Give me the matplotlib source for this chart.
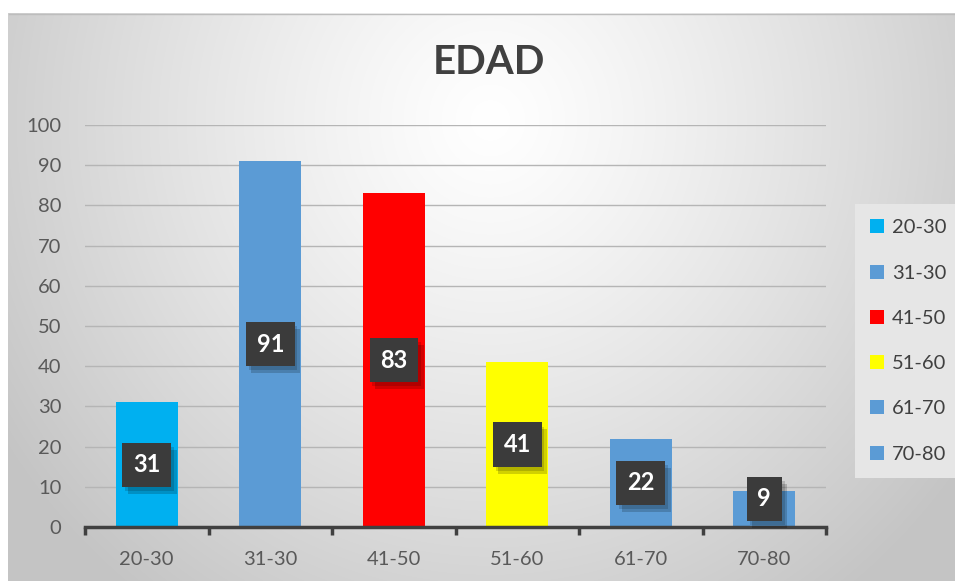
import numpy as np
import matplotlib
matplotlib.use("Agg")
import matplotlib.pyplot as plt
from matplotlib.patches import Patch
import matplotlib.patheffects as pe

categories = ["20-30", "31-30", "41-50", "51-60", "61-70", "70-80"]
values = [31, 91, 83, 41, 22, 9]
colors = ["#00B0F0", "#5B9BD5", "#FF0000", "#FFFF00", "#5B9BD5", "#5B9BD5"]
yticks = [0, 10, 20, 30, 40, 50, 60, 70, 80, 90, 100]
title = "EDAD"

plt.rcParams['font.family'] = ['Lato', 'DejaVu Sans']

W, H = 955, 581
fig = plt.figure(figsize=(W / 100, H / 100), dpi=100)
fig.patch.set_facecolor("white")

# background chart area with radial gradient
bx0, by0, bw, bh = 8, 13, 947, 568
bg = fig.add_axes([bx0 / W, 0, bw / W, bh / H], zorder=-5)
yy, xx = np.mgrid[0:bh, 0:bw]
cx, cy = 490 - bx0, 120 - by0
d = np.sqrt(((xx - cx) / 580.0) ** 2 + ((yy - cy) / 600.0) ** 2)
d = np.clip(d, 0, 1)
val = 1.0 - 0.23 * d ** 1.2
img = np.dstack([val, val, val])
bg.imshow(img, aspect="auto", interpolation="bilinear")
bg.axis("off")
bg.plot([0, bw], [0.5, 0.5], color="#bdbdbd", lw=1)
bg.set_xlim(-0.5, bw - 0.5)
bg.set_ylim(bh - 0.5, -0.5)

ax = fig.add_axes([85 / W, 1 - 527 / H, (826 - 85) / W, (527 - 125) / H])
ax.set_facecolor("none")
x = np.arange(len(categories))
bars = ax.bar(x, values, width=0.5, color=colors, zorder=3)
ax.set_xlim(-0.5, len(categories) - 0.5)
ax.set_ylim(0, 100)
ax.set_yticks(yticks)
ax.yaxis.grid(True, color="#b5b5b5", lw=1, zorder=0)
ax.set_axisbelow(True)
for s in ["top", "right", "left"]:
    ax.spines[s].set_visible(False)
ax.spines["bottom"].set_color("#404040")
ax.spines["bottom"].set_linewidth(2.5)
ax.spines["bottom"].set_zorder(4)
ax.set_xticks(x)
ax.set_xticklabels(categories)
ax.set_xticks(np.arange(-0.5, len(categories), 1.0), minor=True)
ax.tick_params(axis="x", which="major", length=0, pad=17, labelsize=14.5, labelcolor="#595959")
ax.tick_params(axis="x", which="minor", length=6, width=2.5, color="#404040", direction="out")
ax.tick_params(axis="y", length=0, pad=17, labelsize=14.5, labelcolor="#595959")

for xi, v in zip(x, values):
    yp = max(v / 2.0, 7)
    t = ax.text(xi, yp, str(v), ha="center", va="center", fontsize=17, fontweight="bold",
                color="white", zorder=6,
                bbox=dict(boxstyle="square,pad=0.45", facecolor="#3b3b3b", edgecolor="none"))
    t.get_bbox_patch().set_path_effects([
        pe.SimplePatchShadow(offset=(4, -5), shadow_rgbFace="black", alpha=0.18),
        pe.SimplePatchShadow(offset=(2, -3), shadow_rgbFace="black", alpha=0.15),
        pe.Normal()])

fig.text(489 / W, 1 - 63 / H, title, ha="center", va="center", fontsize=29,
         fontweight="bold", color="#404040")

handles = [Patch(facecolor=c, edgecolor="none") for c in colors]
leg = fig.legend(handles, categories, loc="center left", bbox_to_anchor=(855 / W, 1 - 341 / H),
                 frameon=True, fontsize=14.5, labelspacing=1.4, handlelength=0.7, handleheight=0.7,
                 handletextpad=0.4, borderpad=0.75, borderaxespad=0, fancybox=False)
leg.get_frame().set_facecolor("#e6e6e6")
leg.get_frame().set_edgecolor("none")
leg.get_frame().set_alpha(1)
for t in leg.get_texts():
    t.set_color("#404040")

fig.savefig("out.png", dpi=100)
